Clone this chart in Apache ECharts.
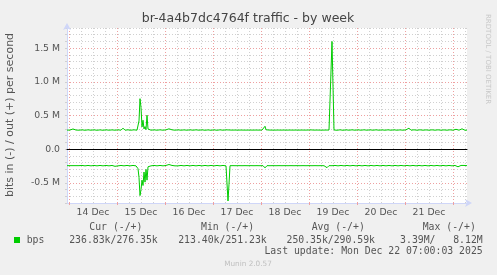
<!DOCTYPE html>
<html><head><meta charset="utf-8">
<script src="https://cdn.jsdelivr.net/npm/echarts@6/dist/echarts.min.js"></script>
<style>html,body{margin:0;padding:0;background:#f0f0f0}#c{width:497px;height:275px}</style>
</head><body><div id="c"></div>
<script>
// ---- data (kbit/s, 30-minute samples from Dec 13 23:00 to Dec 22 07:00) ----
const titleText = 'br-4a4b7dc4764f traffic - by week';
const yAxisTitle = 'bits in (-) / out (+) per second';
const dayLabels = ['14 Dec','15 Dec','16 Dec','17 Dec','18 Dec','19 Dec','20 Dec','21 Dec'];
const majorTicks = [-500, 0, 500, 1000, 1500];
const majorTickLabels = ['-0.5 M', '0.0', '0.5 M', '1.0 M', '1.5 M'];
const legendHeaders = ['Cur (-/+)', 'Min (-/+)', 'Avg (-/+)', 'Max (-/+)'];
const legendName = 'bps';
const legendValues = ['236.83k/276.35k', '213.40k/251.23k', '250.35k/290.59k', '3.39M/   8.12M'];
const lastUpdate = 'Last update: Mon Dec 22 07:00:03 2025';
const footer = 'Munin 2.0.57';
const watermark = 'RRDTOOL / TOBI OETIKER';

const outK = [
283,285,282,284,286,290,300,322,290,284,283,285,282,287,281,287,282,287,281,287,
282,287,281,287,282,286,281,287,282,287,281,287,282,286,282,287,281,287,282,287,
281,287,282,287,281,286,282,287,282,287,281,287,282,286,282,290,312,286,282,287,
281,287,282,287,282,286,281,287,282,287,282,282,420,750,620,330,430,300,335,290,
505,300,283,287,282,287,281,287,282,286,282,287,281,287,282,287,282,286,281,287,
282,287,302,286,282,287,281,287,282,286,282,287,281,287,282,287,282,286,281,287,
282,287,281,287,282,286,282,287,281,287,282,287,282,286,281,287,282,287,281,287,
282,286,282,287,281,287,282,287,282,286,281,287,282,287,281,287,282,286,282,287,
284,300,285,283,284,283,284,283,284,283,284,283,284,283,284,283,284,283,284,283,
283,284,283,284,283,284,283,284,283,284,283,284,283,284,283,284,290,305,340,288,
284,283,284,283,284,283,305,286,283,284,283,284,283,284,283,284,283,284,283,284,
283,284,283,284,283,284,283,284,283,284,283,284,283,284,283,284,283,284,283,284,
283,284,285,300,286,283,284,283,284,283,284,283,284,283,300,284,283,284,283,284,
284,283,284,290,284,1600,1600,285,282,287,281,287,282,287,282,286,281,287,282,287,
282,286,282,287,281,287,282,287,282,286,281,287,282,300,282,287,281,287,282,287,
282,286,281,287,282,287,282,286,282,287,281,287,282,287,282,286,281,287,282,287,
281,287,282,287,282,286,282,287,281,287,282,287,282,286,281,287,282,287,281,287,
282,295,312,286,282,287,281,287,282,287,282,286,282,287,281,287,282,287,282,286,
281,287,282,287,281,287,282,287,282,286,282,287,281,287,282,287,282,286,281,287,
282,287,281,287,282,286,282,287,281,295,322,287,282,287,282,302,282,287,281,287,
283
];
const inK = [
-245,-244,-246,-245,-244,-246,-245,-244,-246,-245,-244,-246,-245,-242,-248,-242,-248,-242,-248,-242,
-248,-242,-248,-242,-248,-242,-248,-242,-248,-242,-248,-242,-248,-242,-248,-242,-248,-242,-248,-242,
-248,-242,-248,-242,-248,-242,-248,-242,-255,-265,-278,-248,-242,-248,-242,-248,-242,-248,-242,-248,
-242,-248,-242,-248,-242,-248,-242,-248,-242,-248,-252,-290,-420,-690,-600,-460,-540,-340,-490,-300,
-460,-262,-248,-242,-248,-242,-248,-242,-248,-242,-248,-242,-248,-242,-248,-242,-248,-242,-248,-242,
-248,-242,-228,-242,-248,-242,-248,-242,-248,-262,-272,-248,-242,-248,-242,-248,-242,-248,-242,-248,
-242,-248,-242,-248,-242,-248,-242,-248,-242,-248,-242,-248,-242,-248,-242,-248,-242,-248,-242,-248,
-242,-248,-242,-248,-242,-248,-242,-248,-242,-248,-242,-248,-242,-248,-242,-248,-242,-248,-242,-248,
-246,-770,-520,-246,-245,-246,-245,-246,-245,-246,-245,-246,-245,-246,-245,-246,-245,-246,-245,-246,
-245,-246,-245,-246,-245,-246,-245,-246,-245,-246,-245,-246,-245,-246,-245,-246,-245,-260,-278,-250,
-245,-246,-245,-246,-245,-246,-245,-246,-245,-246,-245,-246,-245,-246,-245,-246,-245,-246,-245,-246,
-245,-246,-245,-246,-245,-246,-245,-246,-245,-246,-245,-246,-245,-246,-245,-246,-245,-246,-245,-246,
-245,-246,-245,-246,-245,-246,-265,-248,-245,-246,-245,-246,-245,-246,-245,-246,-245,-246,-245,-246,
-275,-250,-245,-246,-245,-246,-245,-246,-242,-248,-242,-248,-242,-248,-242,-248,-242,-248,-242,-248,
-242,-248,-242,-248,-242,-248,-242,-248,-242,-248,-242,-248,-242,-248,-242,-248,-242,-248,-242,-248,
-242,-248,-242,-248,-242,-248,-242,-248,-242,-248,-242,-248,-242,-248,-242,-248,-242,-248,-242,-248,
-242,-248,-242,-248,-242,-248,-242,-248,-242,-248,-242,-248,-242,-248,-242,-248,-242,-248,-242,-248,
-242,-252,-265,-248,-242,-248,-242,-248,-242,-248,-242,-248,-242,-248,-242,-248,-242,-248,-242,-248,
-242,-248,-242,-248,-242,-248,-242,-248,-242,-248,-242,-248,-242,-248,-242,-248,-242,-248,-242,-248,
-242,-248,-242,-248,-242,-248,-242,-248,-242,-248,-242,-262,-272,-248,-242,-265,-248,-242,-248,-242,
-245
];

// time categories (one per 30 minutes)
const startTime = Date.UTC(2025, 11, 13, 23, 0, 0);
const stepMs = 30 * 60 * 1000;
const times = outK.map((_, i) => new Date(startTime + i * stepMs).toISOString());
const firstMidnight = 2;           // index of Dec 14 00:00
const perDay = 48, perGrid = 12;   // samples per day / per 6h gridline

const GREEN = '#00CC00', AXIS = '#CFD6F8', FONT = '#555555';
const MINOR = '#d0d0d0', MAJOR = '#eea0a0';

const chart = echarts.init(document.getElementById('c'), null, {renderer: 'canvas'});
chart.setOption({
  backgroundColor: '#f0f0f0',
  animation: false,
  grid: {left: 67, top: 28, width: 400, height: 175, show: true, backgroundColor: '#ffffff', borderWidth: 0},
  xAxis: [
    { type: 'category', data: times, boundaryGap: false, position: 'bottom', z: 1,
      axisLine: {onZero: true, lineStyle: {color: '#000000', width: 1}},
      axisTick: {show: false}, axisLabel: {show: false},
      splitLine: {show: true,
        interval: (i) => (i - firstMidnight) % perGrid === 0 && (i - firstMidnight) % perDay !== 0,
        lineStyle: {color: MINOR, type: [1, 2], width: 1}} },
    { type: 'category', data: times, boundaryGap: false, position: 'bottom',
      axisLine: {onZero: false, show: true, lineStyle: {color: AXIS, width: 1},
        symbol: ['none', 'arrow'], symbolSize: [6, 7], symbolOffset: [0, 5]},
      axisTick: {show: true, length: 2, interval: (i) => (i - firstMidnight) % perDay === 0,
        lineStyle: {color: MAJOR}},
      axisLabel: {interval: (i) => (i - firstMidnight) % perDay === perDay / 2,
        formatter: (v, i) => dayLabels[Math.round((i - firstMidnight - perDay / 2) / perDay)] || '',
        margin: 5, color: FONT, fontFamily: 'DejaVu Sans', fontSize: 9.3},
      splitLine: {show: true, interval: (i) => (i - firstMidnight) % perDay === 0,
        lineStyle: {color: MAJOR, type: [1, 2], width: 1}} }
  ],
  yAxis: [{
    type: 'value', min: -800, max: 1800, interval: 100,
    axisLine: {show: true, lineStyle: {color: AXIS, width: 1},
      symbol: ['none', 'arrow'], symbolSize: [6, 7], symbolOffset: [0, 5]},
    axisTick: {show: true, length: 2, lineStyle: {color: MINOR}},
    axisLabel: {
      formatter: (v) => { const k = majorTicks.indexOf(Math.round(v)); return k >= 0 ? majorTickLabels[k] : ''; },
      margin: 7, color: FONT, fontFamily: 'DejaVu Sans', fontSize: 9.3},
    splitLine: {show: true, lineStyle: {color: [MINOR, MINOR, MINOR, MAJOR, MINOR], type: [1, 2], width: 1}}
  }],
  series: [
    {type: 'line', name: 'out', data: outK, symbol: 'none', silent: true, z: 3,
      lineStyle: {color: GREEN, width: 1}},
    {type: 'line', name: 'in', data: inK, symbol: 'none', silent: true, z: 3,
      lineStyle: {color: GREEN, width: 1}}
  ],
  graphic: [
    {type: 'text', x: 248, y: 19, style: {text: titleText, font: '12.5px "DejaVu Sans"', fill: '#444', align: 'center', verticalAlign: 'middle'}},
    {type: 'text', x: 10, y: 115, rotation: Math.PI / 2, style: {text: yAxisTitle, font: '11px "DejaVu Sans"', fill: FONT, align: 'center', verticalAlign: 'middle'}},
    {type: 'text', x: 488, y: 14, rotation: -Math.PI / 2, style: {text: watermark, font: '7px "DejaVu Sans"', fill: '#c8c8c8', align: 'left', verticalAlign: 'middle'}},
    {type: 'text', x: 89.3, y: 227.3, style: {text: legendHeaders[0], font: '9.8px "DejaVu Sans Mono"', fill: FONT, align: 'left', verticalAlign: 'middle'}},
    {type: 'text', x: 201, y: 227.3, style: {text: legendHeaders[1], font: '9.8px "DejaVu Sans Mono"', fill: FONT, align: 'left', verticalAlign: 'middle'}},
    {type: 'text', x: 311.7, y: 227.3, style: {text: legendHeaders[2], font: '9.8px "DejaVu Sans Mono"', fill: FONT, align: 'left', verticalAlign: 'middle'}},
    {type: 'text', x: 422.7, y: 227.3, style: {text: legendHeaders[3], font: '9.8px "DejaVu Sans Mono"', fill: FONT, align: 'left', verticalAlign: 'middle'}},
    {type: 'rect', shape: {x: 14, y: 237, width: 6, height: 6}, style: {fill: GREEN}},
    {type: 'text', x: 26.7, y: 240, style: {text: legendName, font: '9.8px "DejaVu Sans Mono"', fill: FONT, align: 'left', verticalAlign: 'middle'}},
    {type: 'text', x: 157.7, y: 240, style: {text: legendValues[0], font: '9.8px "DejaVu Sans Mono"', fill: FONT, align: 'right', verticalAlign: 'middle'}},
    {type: 'text', x: 266.7, y: 240, style: {text: legendValues[1], font: '9.8px "DejaVu Sans Mono"', fill: FONT, align: 'right', verticalAlign: 'middle'}},
    {type: 'text', x: 375, y: 240, style: {text: legendValues[2], font: '9.8px "DejaVu Sans Mono"', fill: FONT, align: 'right', verticalAlign: 'middle'}},
    {type: 'text', x: 482.7, y: 240, style: {text: legendValues[3], font: '9.8px "DejaVu Sans Mono"', fill: FONT, align: 'right', verticalAlign: 'middle'}},
    {type: 'text', x: 482.7, y: 251.7, style: {text: lastUpdate, font: '9.8px "DejaVu Sans Mono"', fill: FONT, align: 'right', verticalAlign: 'middle'}},
    {type: 'text', x: 248, y: 264.3, style: {text: footer, font: '7.3px "DejaVu Sans"', fill: '#c0c0c0', align: 'center', verticalAlign: 'middle'}}
  ]
});
</script>
</body></html>
